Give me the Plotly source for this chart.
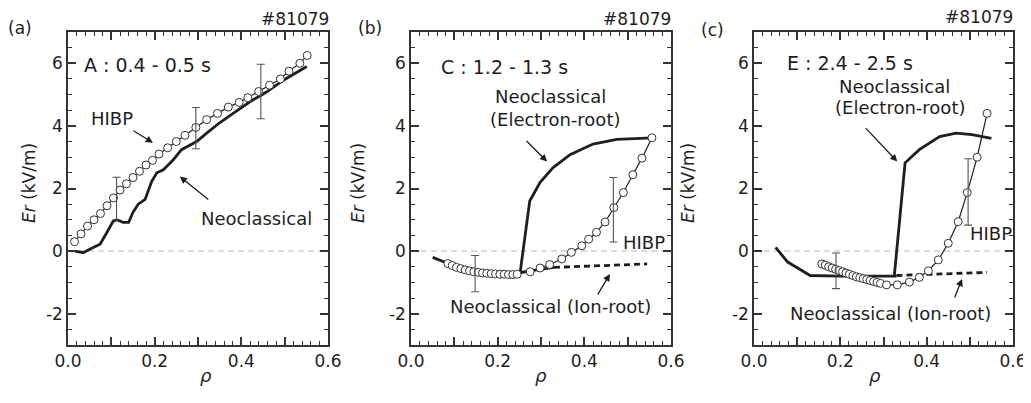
import plotly.graph_objects as go

W, H = 1031, 403
OFF = 8  # page body margin of the browser; coordinates below are window pixels
FONT = "DejaVu Sans"
INK = "#1e1e1e"

# ---------------- data ----------------
# (a) A : 0.4 - 0.5 s
a_hibp_x = [0.015, 0.03, 0.045, 0.06, 0.075, 0.09, 0.105, 0.12, 0.135, 0.15, 0.165, 0.18, 0.195, 0.21,
            0.23, 0.25, 0.27, 0.295, 0.32, 0.345, 0.37, 0.395, 0.415, 0.44, 0.465, 0.49, 0.51, 0.535, 0.552]
a_hibp_y = [0.3, 0.55, 0.8, 1.0, 1.2, 1.45, 1.7, 1.95, 2.15, 2.35, 2.55, 2.75, 2.9, 3.1,
            3.3, 3.5, 3.7, 3.95, 4.2, 4.4, 4.6, 4.75, 4.9, 5.1, 5.3, 5.5, 5.75, 6.0, 6.25]
a_neo_x = [0.016, 0.035, 0.05, 0.074, 0.09, 0.104, 0.112, 0.127, 0.14, 0.15, 0.162, 0.178, 0.193, 0.205,
           0.22, 0.243, 0.262, 0.297, 0.32, 0.35, 0.381, 0.42, 0.459, 0.497, 0.551]
a_neo_y = [0.0, -0.05, 0.06, 0.22, 0.6, 0.95, 1.0, 0.92, 0.92, 1.24, 1.5, 1.65, 2.22, 2.5,
           2.6, 2.92, 3.24, 3.5, 3.77, 4.1, 4.4, 4.77, 5.09, 5.46, 5.9]
a_err_x = [0.112, 0.295, 0.445]
a_err_y = [1.68, 3.93, 5.1]
a_err_e = [0.68, 0.66, 0.87]

# (b) C : 1.2 - 1.3 s
b_hibp_x = [0.085, 0.095, 0.105, 0.115, 0.125, 0.135, 0.145, 0.155, 0.165, 0.175, 0.185, 0.195, 0.205,
            0.215, 0.225, 0.235, 0.245, 0.275, 0.298, 0.32, 0.348, 0.37, 0.394, 0.41, 0.428, 0.448,
            0.468, 0.49, 0.512, 0.533, 0.556]
b_hibp_y = [-0.4, -0.46, -0.52, -0.56, -0.6, -0.63, -0.66, -0.68, -0.7, -0.71, -0.72, -0.73, -0.74,
            -0.74, -0.75, -0.75, -0.74, -0.66, -0.54, -0.43, -0.25, -0.04, 0.17, 0.38, 0.6, 0.93,
            1.39, 1.87, 2.44, 2.97, 3.62]
b_ion_x = [0.05, 0.09, 0.13, 0.2, 0.256, 0.29, 0.33]
b_ion_y = [-0.2, -0.42, -0.68, -0.69, -0.67, -0.6, -0.52]
b_ion2_x = [0.33, 0.4, 0.45, 0.5, 0.545]
b_ion2_y = [-0.52, -0.48, -0.45, -0.43, -0.41]
b_ele_x = [0.252, 0.274, 0.298, 0.328, 0.367, 0.42, 0.475, 0.556]
b_ele_y = [-0.67, 1.6, 2.2, 2.67, 3.08, 3.42, 3.57, 3.62]
b_err_x = [0.148, 0.467]
b_err_y = [-0.72, 1.32]
b_err_e = [0.58, 1.03]

# (c) E : 2.4 - 2.5 s
c_hibp_x = [0.157, 0.165, 0.173, 0.181, 0.189, 0.197, 0.205, 0.213, 0.221, 0.229, 0.237, 0.245, 0.253,
            0.261, 0.269, 0.277, 0.285, 0.293, 0.307, 0.332, 0.36, 0.383, 0.404, 0.427, 0.45, 0.473,
            0.494, 0.517, 0.54]
c_hibp_y = [-0.41, -0.45, -0.5, -0.54, -0.58, -0.62, -0.66, -0.7, -0.74, -0.78, -0.82, -0.85, -0.88,
            -0.91, -0.94, -0.97, -1.0, -1.03, -1.08, -1.08, -0.99, -0.84, -0.63, -0.28, 0.25, 0.94,
            1.87, 3.0, 4.4]
c_ion_x = [0.05, 0.078, 0.105, 0.13, 0.2, 0.28, 0.33]
c_ion_y = [0.12, -0.35, -0.57, -0.78, -0.8, -0.8, -0.8]
c_ion2_x = [0.33, 0.4, 0.47, 0.54]
c_ion2_y = [-0.78, -0.75, -0.71, -0.68]
c_ele_x = [0.325, 0.35, 0.383, 0.43, 0.468, 0.505, 0.55]
c_ele_y = [-0.8, 2.82, 3.24, 3.66, 3.77, 3.72, 3.6]
c_err_x = [0.19, 0.496]
c_err_y = [-0.63, 1.89]
c_err_e = [0.57, 1.06]

x_tickvals = [0.0, 0.1, 0.2, 0.3, 0.4, 0.5, 0.6]
x_ticktext = ["0.0", "", "0.2", "", "0.4", "", "0.6"]
y_tickvals = [-2, 0, 2, 4, 6]
y_ticktext = ["-2", "0", "2", "4", "6"]

# ---------------- figure ----------------
fig = go.Figure()

def px(x):
    return (x - OFF) / W

def py(y):
    return 1 - (y - OFF) / H

panels = [
    dict(n="", hx=a_hibp_x, hy=a_hibp_y, err=(a_err_x, a_err_y, a_err_e),
         lines=[(a_neo_x, a_neo_y, "solid")]),
    dict(n="2", hx=b_hibp_x, hy=b_hibp_y, err=(b_err_x, b_err_y, b_err_e),
         lines=[(b_ion_x, b_ion_y, "solid"), (b_ion2_x, b_ion2_y, "dash"), (b_ele_x, b_ele_y, "solid")]),
    dict(n="3", hx=c_hibp_x, hy=c_hibp_y, err=(c_err_x, c_err_y, c_err_e),
         lines=[(c_ion_x, c_ion_y, "solid"), (c_ion2_x, c_ion2_y, "dash"), (c_ele_x, c_ele_y, "solid")]),
]
domains = [(68, 328), (411, 671), (754, 1013)]
top, bottom = 32, 345

for i, p in enumerate(panels):
    xa, ya = "x" + p["n"], "y" + p["n"]
    for lx, ly, dash in p["lines"]:
        fig.add_trace(go.Scatter(x=lx, y=ly, xaxis=xa, yaxis=ya, mode="lines",
                                 line=dict(color=INK, width=2.8, dash="6px,4px" if dash == "dash" else "solid"),
                                 showlegend=False, hoverinfo="skip"))
    fig.add_trace(go.Scatter(x=p["hx"], y=p["hy"], xaxis=xa, yaxis=ya, mode="lines+markers",
                             line=dict(color=INK, width=1.2),
                             marker=dict(symbol="circle", size=8, color="white",
                                         line=dict(color="#333", width=1)),
                             showlegend=False))
    ex, ey, ee = p["err"]
    fig.add_trace(go.Scatter(x=ex, y=ey, xaxis=xa, yaxis=ya, mode="markers",
                             marker=dict(size=1, color="rgba(0,0,0,0)"),
                             error_y=dict(type="data", array=ee, visible=True, color="#555",
                                          thickness=1.1, width=4),
                             showlegend=False))
    d0, d1 = domains[i]
    axis_common = dict(showline=True, linecolor="#333", linewidth=1.5, mirror="ticks",
                       ticks="inside", tickcolor="#333", tickwidth=1.5, ticklen=8,
                       showgrid=False, zeroline=False, automargin=False,
                       tickfont=dict(family=FONT, size=17, color=INK))
    fig.update_layout(**{
        "xaxis" + p["n"]: dict(axis_common, domain=[px(d0), px(d1)], range=[0, 0.6],
                               tickvals=x_tickvals, ticktext=x_ticktext, anchor=ya,
                               minor=dict(dtick=0.02, tick0=0, ticklen=4, ticks="inside",
                                          tickcolor="#333", tickwidth=1.3)),
        "yaxis" + p["n"]: dict(axis_common, domain=[py(bottom), py(top)], range=[-3, 7],
                               tickvals=y_tickvals, ticktext=y_ticktext, anchor=xa,
                               minor=dict(dtick=0.5, tick0=0, ticklen=4, ticks="inside",
                                          tickcolor="#333", tickwidth=1.3)),
    })
    fig.add_shape(type="line", xref=xa + " domain", yref=ya, x0=0, x1=1, y0=0, y1=0,
                  line=dict(color="#cfcfcf", width=1.5, dash="6px,4px"), layer="below")

annotations = []

def text(x, y, s, size=18, xanchor="center"):
    annotations.append(dict(x=px(x), y=py(y), xref="paper", yref="paper", text=s, showarrow=False,
                            xanchor=xanchor, yanchor="middle",
                            font=dict(family=FONT, size=size, color=INK)))

def arrow(xref, yref, hx, hy, ax, ay):
    annotations.append(dict(x=hx, y=hy, xref=xref, yref=yref, ax=ax, ay=ay, axref="pixel", ayref="pixel",
                            text="", showarrow=True, arrowhead=2, arrowsize=1.1, arrowwidth=1.3,
                            arrowcolor=INK))

# panel labels and shot number
text(20, 28, "(a)", 17)
text(370, 28, "(b)", 17)
text(712, 30, "(c)", 17)
text(331, 19, "#81079", 17, "right")
text(673, 19, "#81079", 17, "right")
text(1015, 17, "#81079", 17, "right")

# axis titles
for cx in [198, 541, 883]:
    annotations.append(dict(x=px(cx), y=py(388), xref="paper", yref="paper", text="<i>ρ</i>",
                            showarrow=False, font=dict(family=FONT, size=18, color=INK)))
for tx in [17, 358, 700]:
    annotations.append(dict(x=px(tx), y=py(183), xref="paper", yref="paper", text="<i>Er</i> (kV/m)",
                            showarrow=False, textangle=-90, font=dict(family=FONT, size=17, color=INK)))

# panel (a)
text(147, 65, "A : 0.4 - 0.5 s", 19)
text(112, 118, "HIBP", 18)
text(256, 219, "Neoclassical", 18)
arrow("x", "y", 0.196, 3.46, -21, -13)
arrow("x", "y", 0.258, 2.38, 30, 24)

# panel (b)
text(504, 67, "C : 1.2 - 1.3 s", 19)
text(550, 97, "Neoclassical", 18)
text(555, 119, "(Electron-root)", 18)
text(644, 242, "HIBP", 18)
text(550, 306, "Neoclassical (Ion-root)", 18)
arrow("x2", "y2", 0.314, 2.86, -22, -22)
arrow("x2", "y2", 0.459, -0.73, -13, 22)

# panel (c)
text(850, 63, "E : 2.4 - 2.5 s", 19)
text(894, 86, "Neoclassical", 18)
text(900, 107, "(Electron-root)", 18)
text(991, 233, "HIBP", 18)
text(890, 313, "Neoclassical (Ion-root)", 18)
arrow("x3", "y3", 0.332, 2.86, -33, -35)
arrow("x3", "y3", 0.482, -0.89, -8, 20)

fig.update_layout(width=W, height=H, margin=dict(l=0, r=0, t=0, b=0),
                  paper_bgcolor="white", plot_bgcolor="white",
                  annotations=annotations, showlegend=False,
                  font=dict(family=FONT, color=INK))

fig.write_html("out.html")
